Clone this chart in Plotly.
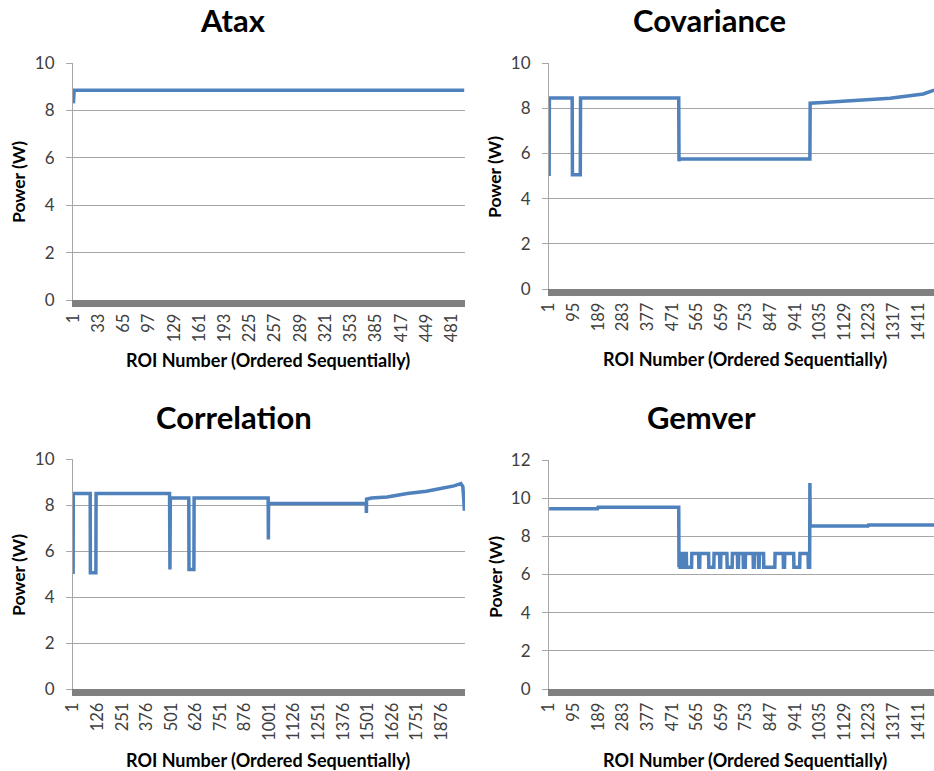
import plotly.graph_objects as go

# ---------------- data (ROI number, power in W) ----------------
atax_x = [1, 2, 497]
atax_y = [8.3, 8.85, 8.85]
atax_ticks = [1, 33, 65, 97, 129, 161, 193, 225, 257, 289, 321, 353, 385, 417, 449, 481]

cov_x = [1, 2, 89, 90, 120, 121, 496, 497, 498, 997, 998, 1047, 1175, 1303, 1430, 1456, 1472]
cov_y = [5.0, 8.45, 8.45, 5.05, 5.05, 8.45, 8.45, 5.65, 5.75, 5.75, 8.22, 8.25, 8.33, 8.44, 8.63, 8.73, 8.8]
cov_ticks = [1, 95, 189, 283, 377, 471, 565, 659, 753, 847, 941, 1035, 1129, 1223, 1317, 1411]

cor_x = [1, 2, 88, 89, 117, 118, 492, 494, 496, 590, 591, 616, 617, 994, 995, 996,
         1493, 1494, 1495, 1520, 1600, 1702, 1800, 1872, 1940, 1975, 1985, 1990, 1993]
cor_y = [5.0, 8.5, 8.5, 5.05, 5.05, 8.5, 8.5, 5.2, 8.3, 8.3, 5.2, 5.2, 8.3, 8.3, 6.5, 8.07,
         8.07, 7.65, 8.25, 8.3, 8.35, 8.5, 8.6, 8.72, 8.83, 8.93, 8.8, 8.2, 7.75]
cor_ticks = [1, 126, 251, 376, 501, 626, 751, 876, 1001, 1126, 1251, 1376, 1501, 1626, 1751, 1876]

gem_x = [1, 186, 188, 496, 497, 499, 501, 506, 507, 517, 518, 520, 521, 525, 526, 545,
         546, 572, 573, 576, 577, 610, 611, 630, 631, 652, 653, 656, 657, 680, 681, 700,
         701, 720, 721, 724, 725, 742, 743, 750, 751, 780, 781, 784, 785, 800, 801, 803,
         804, 820, 821, 863, 864, 895, 896, 900, 901, 935, 936, 958, 959, 990, 991, 996,
         997, 998, 1219, 1221, 1472]
gem_y = [9.45, 9.45, 9.52, 9.52, 6.38, 7.1, 6.38, 6.38, 7.1, 7.1, 6.38, 6.38, 7.1, 7.1, 6.38, 6.38,
         7.1, 7.1, 6.38, 6.38, 7.1, 7.1, 6.38, 6.38, 7.1, 7.1, 6.38, 6.38, 7.1, 7.1, 6.38, 6.38,
         7.1, 7.1, 6.38, 6.38, 7.1, 7.1, 6.38, 6.38, 7.1, 7.1, 6.38, 6.38, 7.1, 7.1, 6.38, 6.38,
         7.1, 7.1, 6.38, 6.38, 7.1, 7.1, 6.38, 6.38, 7.1, 7.1, 6.38, 6.38, 7.1, 7.1, 6.38, 6.38,
         10.8, 8.54, 8.54, 8.6, 8.6]
gem_ticks = [1, 95, 189, 283, 377, 471, 565, 659, 753, 847, 941, 1035, 1129, 1223, 1317, 1411]

titles = ["Atax", "Covariance", "Correlation", "Gemver"]
y_title = "Power (W)"
x_title = "ROI Number (Ordered Sequentially)"

# ---------------- layout ----------------
W, H = 934, 771
FONT = "Lato"
LINE = "#4F81BD"
GRID = "#A6A6A6"

def fx(px):
    return px / W

def fy(py):
    return 1 - py / H

panels = [
    (atax_x, atax_y, atax_ticks, [0.5, 498], 10, (73, 465), (63, 300), (233, 0), (268, 360), (18, 182)),
    (cov_x, cov_y, cov_ticks, [0.5, 1471], 10, (549, 934), (63, 289), (709, 0), (745, 359), (495, 177)),
    (cor_x, cor_y, cor_ticks, [0.5, 1996], 10, (73, 465), (459, 689), (234, 397), (268, 760), (18, 575)),
    (gem_x, gem_y, gem_ticks, [0.5, 1471], 12, (549, 934), (460, 689), (701, 397), (745, 760), (495, 577)),
]

fig = go.Figure()
annotations = []
for i, (xs, ys, ticks, xr, ymax, xd, yd, tpos, xtpos, ytpos) in enumerate(panels):
    n = "" if i == 0 else str(i + 1)
    fig.add_trace(go.Scatter(x=xs, y=ys, mode="lines",
                             line=dict(color=LINE, width=3.5),
                             xaxis="x" + n, yaxis="y" + n, showlegend=False,
                             hoverinfo="skip"))
    fig.layout["xaxis" + n] = dict(
        domain=[fx(xd[0]), min(1.0, fx(xd[1]))], range=xr, anchor="y" + n,
        tickmode="array", tickvals=ticks, ticktext=[str(t) for t in ticks],
        tickangle=-90, showgrid=False, zeroline=False, automargin=False,
        showline=True, linewidth=7, linecolor="#808080",
        ticks="", tickfont=dict(family=FONT, size=16.5, color="#404040"),
    )
    fig.layout["yaxis" + n] = dict(
        domain=[fy(yd[1]), fy(yd[0])], range=[0, ymax], dtick=2, anchor="x" + n,
        showgrid=True, gridcolor=GRID, gridwidth=1, zeroline=False, automargin=False,
        showline=True, linewidth=1, linecolor=GRID,
        ticks="outside", ticklen=6, tickcolor=GRID, ticklabelstandoff=8,
        tickfont=dict(family=FONT, size=17, color="#404040"),
    )
    annotations.append(dict(text="<b>%s</b>" % titles[i], x=fx(tpos[0]), y=fy(tpos[1]),
                            xref="paper", yref="paper", showarrow=False,
                            xanchor="center", yanchor="top", borderpad=0,
                            font=dict(family=FONT, size=31, color="black")))
    annotations.append(dict(text="<b>%s</b>" % x_title, x=fx(xtpos[0]), y=fy(xtpos[1]),
                            xref="paper", yref="paper", showarrow=False,
                            xanchor="center", yanchor="middle",
                            font=dict(family=FONT, size=18, color="black")))
    annotations.append(dict(text="<b>%s</b>" % y_title, x=fx(ytpos[0]), y=fy(ytpos[1]),
                            xref="paper", yref="paper", showarrow=False, textangle=-90,
                            xanchor="center", yanchor="middle",
                            font=dict(family=FONT, size=17.5, color="black")))

fig.update_layout(width=W, height=H, margin=dict(l=0, r=0, t=0, b=0),
                  paper_bgcolor="white", plot_bgcolor="white",
                  annotations=annotations)

fig.write_html("out.html", config={"displayModeBar": False},
               post_script="document.body.style.margin='0';document.body.style.overflow='hidden';")
